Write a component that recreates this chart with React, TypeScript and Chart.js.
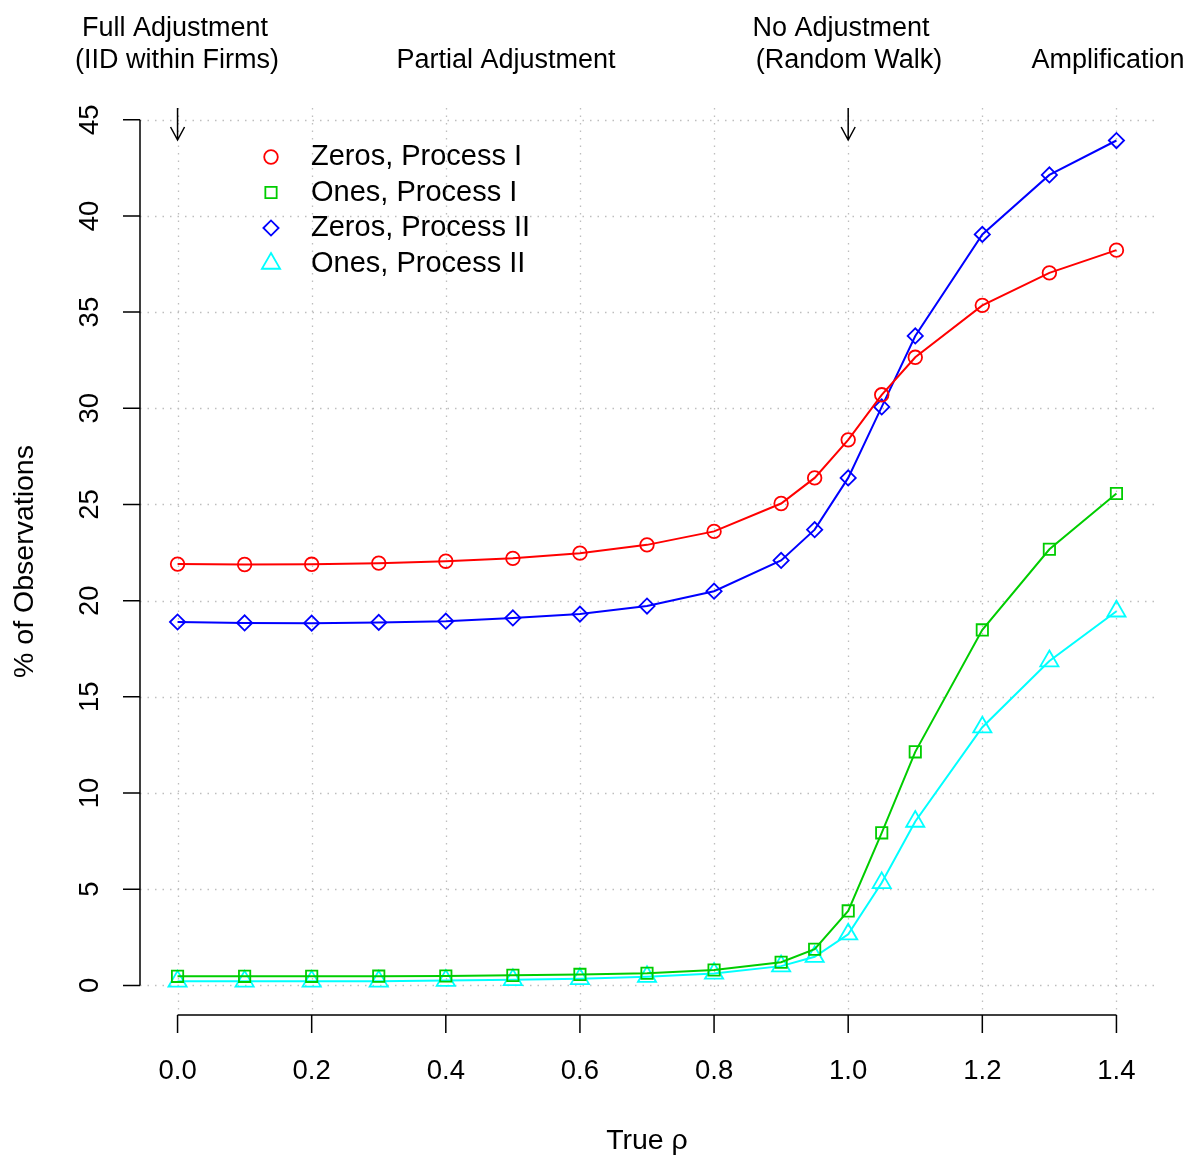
import React, { useEffect, useRef } from "react";
import { Chart, registerables } from "chart.js";

Chart.register(...registerables);

// ---- data ----
const rho = [0, 0.1, 0.2, 0.3, 0.4, 0.5, 0.6, 0.7, 0.8, 0.9, 0.95, 1.0, 1.05, 1.1, 1.2, 1.3, 1.4];
const zerosProcessI = [21.9, 21.88, 21.89, 21.95, 22.05, 22.2, 22.47, 22.9, 23.6, 25.05, 26.38, 28.36, 30.7, 32.65, 35.35, 37.04, 38.22];
const onesProcessI = [0.47, 0.47, 0.47, 0.48, 0.49, 0.52, 0.57, 0.63, 0.8, 1.2, 1.88, 3.87, 7.93, 12.14, 18.48, 22.67, 25.57];
const zerosProcessII = [18.89, 18.84, 18.83, 18.87, 18.93, 19.1, 19.3, 19.72, 20.49, 22.09, 23.69, 26.38, 30.07, 33.76, 39.04, 42.13, 43.92];
const onesProcessII = [0.21, 0.21, 0.21, 0.21, 0.25, 0.29, 0.34, 0.45, 0.62, 1.0, 1.49, 2.66, 5.33, 8.52, 13.42, 16.86, 19.45];

const seriesNames = ["Zeros, Process I", "Ones, Process I", "Zeros, Process II", "Ones, Process II"];
const seriesColors = ["#FF0000", "#00CD00", "#0000FF", "#00FFFF"];
const seriesStyles = ["circle", "rect", "rectRot", "triangle"];
const seriesRadius = [6.8, 8, 7.6, 10.5];

const xTicks = [0, 0.2, 0.4, 0.6, 0.8, 1.0, 1.2, 1.4];
const xTickLabels = ["0.0", "0.2", "0.4", "0.6", "0.8", "1.0", "1.2", "1.4"];
const yTicks = [0, 5, 10, 15, 20, 25, 30, 35, 40, 45];
const yTickLabels = ["0", "5", "10", "15", "20", "25", "30", "35", "40", "45"];

const arrowAt = [0, 1.0];
const regimeTexts: { text: string; cx: number; row: number }[] = [
  { text: "Full Adjustment", cx: 175, row: 0 },
  { text: "(IID within Firms)", cx: 177, row: 1 },
  { text: "Partial Adjustment", cx: 506, row: 1 },
  { text: "No Adjustment", cx: 841, row: 0 },
  { text: "(Random Walk)", cx: 849, row: 1 },
  { text: "Amplification", cx: 1108, row: 1 },
];

const xTitle = "True \u03c1";
const yTitle = "% of Observations";

const FONT = '"Liberation Sans", Arial, Helvetica, sans-serif';

function drawMarker(ctx: CanvasRenderingContext2D, style: string, x: number, y: number, r: number) {
  ctx.beginPath();
  if (style === "circle") {
    ctx.arc(x, y, r, 0, Math.PI * 2);
  } else if (style === "rect") {
    const s = Math.SQRT1_2 * r;
    ctx.rect(x - s, y - s, 2 * s, 2 * s);
  } else if (style === "rectRot") {
    ctx.moveTo(x - r, y);
    ctx.lineTo(x, y - r);
    ctx.lineTo(x + r, y);
    ctx.lineTo(x, y + r);
    ctx.closePath();
  } else if (style === "triangle") {
    const a = (2 * Math.PI) / 3;
    ctx.moveTo(x, y - r);
    ctx.lineTo(x + Math.sin(a) * r, y - Math.cos(a) * r);
    ctx.lineTo(x + Math.sin(2 * a) * r, y - Math.cos(2 * a) * r);
    ctx.closePath();
  }
  ctx.stroke();
}

const rPlotPlugin = {
  id: "rPlot",
  beforeDatasetsDraw(chart: any) {
    const { ctx, chartArea, scales } = chart;
    const xs = scales.x;
    const ys = scales.y;
    ctx.save();
    ctx.strokeStyle = "#BEBEBE";
    ctx.lineWidth = 1.3;
    ctx.setLineDash([1.5, 6]);
    for (const t of yTicks) {
      const py = Math.round(ys.getPixelForValue(t)) + 0.5;
      ctx.beginPath();
      ctx.moveTo(chartArea.left, py);
      ctx.lineTo(chartArea.right, py);
      ctx.stroke();
    }
    for (const t of xTicks) {
      const px = Math.round(xs.getPixelForValue(t)) + 0.5;
      ctx.beginPath();
      ctx.moveTo(px, chartArea.top);
      ctx.lineTo(px, chartArea.bottom);
      ctx.stroke();
    }
    ctx.restore();
  },
  afterDraw(chart: any) {
    const { ctx, chartArea, scales } = chart;
    const xs = scales.x;
    const ys = scales.y;
    ctx.save();
    ctx.setLineDash([]);
    ctx.strokeStyle = "#000";
    ctx.fillStyle = "#000";
    ctx.lineWidth = 1.5;

    // y axis
    const axX = chartArea.left;
    const y0 = ys.getPixelForValue(yTicks[0]);
    const y1 = ys.getPixelForValue(yTicks[yTicks.length - 1]);
    ctx.beginPath();
    ctx.moveTo(axX, y0);
    ctx.lineTo(axX, y1);
    for (const t of yTicks) {
      const py = ys.getPixelForValue(t);
      ctx.moveTo(axX, py);
      ctx.lineTo(axX - 17, py);
    }
    ctx.stroke();
    ctx.font = `27.5px ${FONT}`;
    ctx.textAlign = "center";
    ctx.textBaseline = "middle";
    yTicks.forEach((t, i) => {
      const py = ys.getPixelForValue(t);
      ctx.save();
      ctx.translate(axX - 50, py);
      ctx.rotate(-Math.PI / 2);
      ctx.fillText(yTickLabels[i], 0, 0);
      ctx.restore();
    });

    // x axis
    const axY = chartArea.bottom;
    const x0 = xs.getPixelForValue(xTicks[0]);
    const x1 = xs.getPixelForValue(xTicks[xTicks.length - 1]);
    ctx.beginPath();
    ctx.moveTo(x0, axY);
    ctx.lineTo(x1, axY);
    for (const t of xTicks) {
      const px = xs.getPixelForValue(t);
      ctx.moveTo(px, axY);
      ctx.lineTo(px, axY + 18);
    }
    ctx.stroke();
    xTicks.forEach((t, i) => {
      const px = xs.getPixelForValue(t);
      ctx.fillText(xTickLabels[i], px, axY + 56);
    });

    // axis titles
    ctx.font = `28.5px ${FONT}`;
    ctx.fillText(xTitle, (chartArea.left + chartArea.right) / 2, 1141);
    ctx.save();
    ctx.translate(25, (chartArea.top + chartArea.bottom) / 2);
    ctx.rotate(-Math.PI / 2);
    ctx.fillText(yTitle, 0, 0);
    ctx.restore();

    // regime texts on top
    ctx.font = `27px ${FONT}`;
    for (const r of regimeTexts) {
      ctx.fillText(r.text, r.cx, 29 + r.row * 32);
    }

    // arrows
    ctx.lineWidth = 1.5;
    for (const a of arrowAt) {
      const px = xs.getPixelForValue(a);
      const top = chartArea.top;
      const tip = top + 32;
      ctx.beginPath();
      ctx.moveTo(px, top);
      ctx.lineTo(px, tip);
      ctx.moveTo(px - 7, tip - 13);
      ctx.lineTo(px, tip);
      ctx.lineTo(px + 7, tip - 13);
      ctx.stroke();
    }

    // legend
    ctx.textAlign = "left";
    ctx.font = `29px ${FONT}`;
    seriesNames.forEach((name, i) => {
      const ly = 157 + i * 35.5;
      ctx.strokeStyle = seriesColors[i];
      ctx.lineWidth = 1.8;
      drawMarker(ctx, seriesStyles[i], 271, ly, seriesRadius[i]);
      ctx.fillStyle = "#000";
      ctx.fillText(name, 311, ly);
    });
    ctx.restore();
  },
};

export default function App() {
  const ref = useRef<HTMLCanvasElement | null>(null);
  useEffect(() => {
    if (!ref.current) return;
    const arrays = [zerosProcessI, onesProcessI, zerosProcessII, onesProcessII];
    const chart = new Chart(ref.current, {
      type: "line",
      data: {
        datasets: arrays.map((arr, i) => ({
          label: seriesNames[i],
          data: rho.map((x, j) => ({ x, y: arr[j] })),
          borderColor: seriesColors[i],
          backgroundColor: "rgba(0,0,0,0)",
          pointBorderColor: seriesColors[i],
          pointBackgroundColor: "rgba(0,0,0,0)",
          pointStyle: seriesStyles[i] as any,
          pointRadius: seriesRadius[i],
          pointBorderWidth: 1.8,
          borderWidth: 2,
          tension: 0,
          fill: false,
        })),
      },
      options: {
        animation: false,
        responsive: false,
        devicePixelRatio: 1,
        events: [],
        layout: { padding: { left: 140, right: 35, top: 108, bottom: 140 } },
        scales: {
          x: { type: "linear", min: -0.056, max: 1.456, display: false },
          y: { type: "linear", min: -1.54, max: 45.61, display: false },
        },
        plugins: { legend: { display: false }, tooltip: { enabled: false } },
      },
      plugins: [rPlotPlugin],
    });
    return () => chart.destroy();
  }, []);
  return (
    <div style={{ position: "fixed", left: 0, top: 0, width: 1189, height: 1155, background: "#fff" }}>
      <canvas ref={ref} width={1189} height={1155} style={{ width: 1189, height: 1155 }} />
    </div>
  );
}
